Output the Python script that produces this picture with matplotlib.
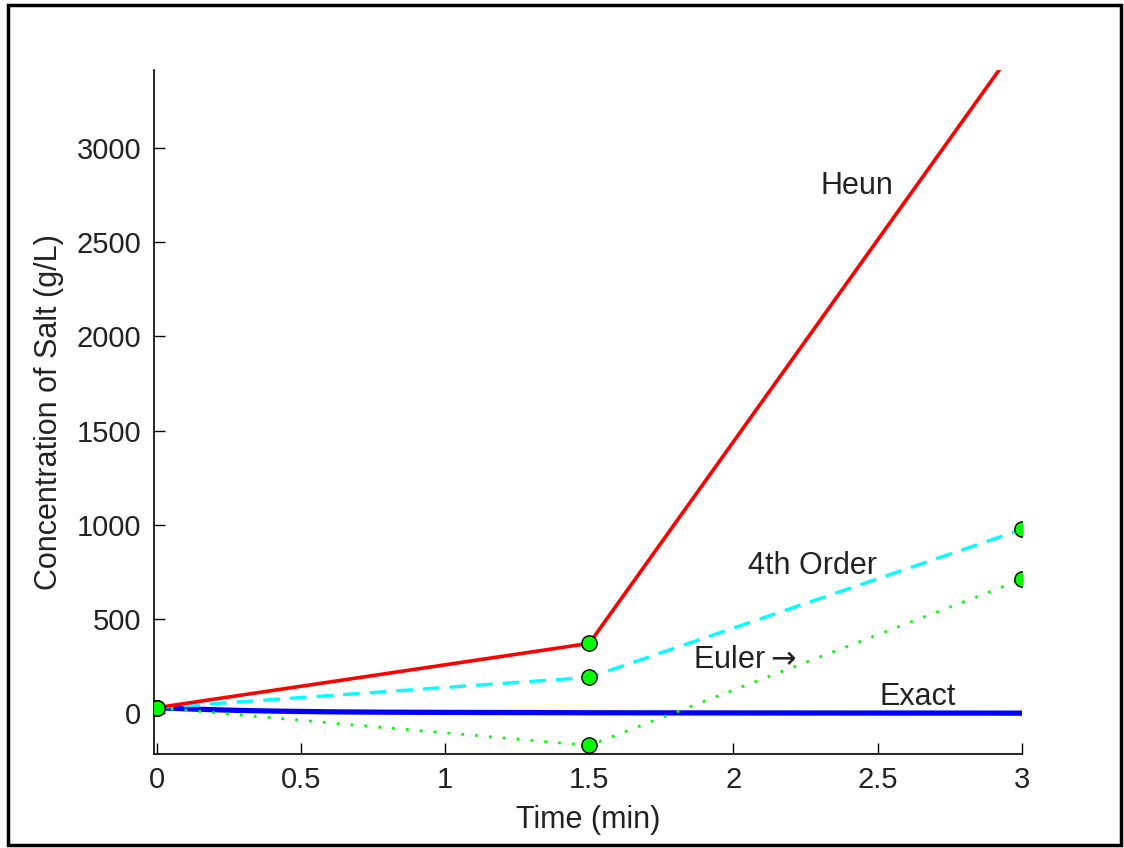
import matplotlib
matplotlib.use("Agg")
import matplotlib.pyplot as plt
from matplotlib.patches import Rectangle

# step results
t_steps = [0, 1.5, 3]
heun = [30, 371, 3580]
fourth_order = [30, 191, 975]
euler = [30, -170, 710]

# exact solution, sampled
t_exact = [0, 0.1, 0.2, 0.3, 0.4, 0.6, 0.8, 1.0, 1.5, 2.0, 2.5, 3.0]
exact = [30, 24, 19, 15, 12, 8, 6, 5, 3, 2, 1.5, 1]

x_ticks = [0, 0.5, 1, 1.5, 2, 2.5, 3]
x_labels = ["0", "0.5", "1", "1.5", "2", "2.5", "3"]
y_ticks = [0, 500, 1000, 1500, 2000, 2500, 3000]

plt.rcParams['font.family'] = ['Liberation Sans', 'DejaVu Sans']
plt.rcParams['mathtext.fontset'] = 'dejavusans'

fig = plt.figure(figsize=(11.24, 8.48), dpi=100)
ax = fig.add_axes([0.137, 0.111, 0.772, 0.806])

ax.plot(t_exact, exact, color='#0000ff', linewidth=3.8, zorder=2)
ax.plot(t_steps, euler, color='#00ff00', linestyle=(0, (1, 4)), linewidth=2.0, zorder=3)
ax.plot(t_steps, fourth_order, color='#00ffff', linestyle=(0, (5, 3)), linewidth=2.4, zorder=3)
ax.plot(t_steps, heun, color='#ff0000', linewidth=2.6, zorder=3)

# markers on the step points
for series in [euler, fourth_order, heun]:
    ax.plot(t_steps, series, linestyle='none', marker='o', markersize=11,
            markerfacecolor='#00ff00', markeredgecolor='black', markeredgewidth=1.0, zorder=4)

ax.text(2.43, 2798, "Heun", fontsize=22, ha='center', va='center', color='#222222')
ax.text(2.275, 784, "4th Order", fontsize=22, ha='center', va='center', color='#222222')
ax.text(2.04, 281, r"Euler$\rightarrow$", fontsize=22, ha='center', va='center', color='#222222')
ax.text(2.64, 85, "Exact", fontsize=22, ha='center', va='center', color='#222222')

ax.set_xlim(-0.01, 3)
ax.set_ylim(-215, 3410)
ax.set_xticks(x_ticks)
ax.set_xticklabels(x_labels)
ax.set_yticks(y_ticks)
ax.tick_params(direction='in', length=8, width=1, labelsize=21, pad=9, labelcolor='#222222')

ax.spines['top'].set_visible(False)
ax.spines['right'].set_visible(False)
ax.spines['left'].set_linewidth(1.2)
ax.spines['bottom'].set_linewidth(1.2)

ax.set_xlabel("Time (min)", fontsize=22, labelpad=8, color='#222222')
ax.set_ylabel("Concentration of Salt (g/L)", fontsize=22, labelpad=9, color='#222222')

# black frame around the whole figure
fig.patches.append(Rectangle((8 / 1124, 3 / 848), 1113 / 1124, 840 / 848,
                             transform=fig.transFigure, fill=False,
                             edgecolor='black', linewidth=2.5))

fig.savefig("out.png", dpi=100)
